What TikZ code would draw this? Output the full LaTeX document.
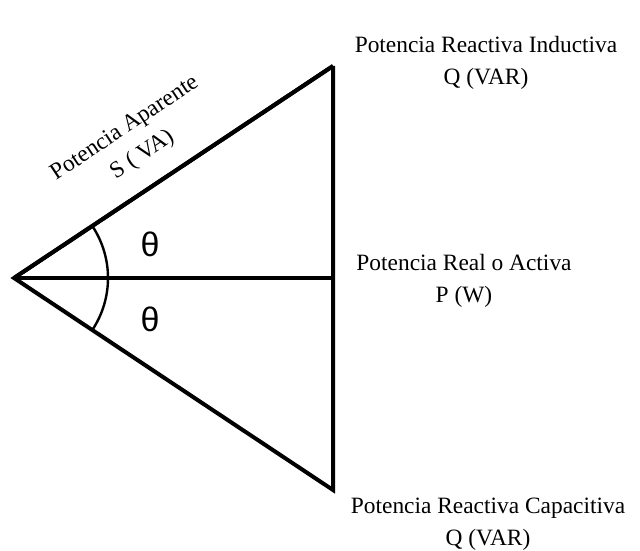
\documentclass[tikz,border=0pt]{standalone}
\usepackage{fontspec}
\setmainfont{Liberation Serif}
\newfontfamily\thetafont{Liberation Sans}
\usetikzlibrary{angles}
\tikzset{
  lado/.style={line width=2pt},
  etiqueta/.style={align=center, font=\fontsize{11.7}{16}\selectfont},
  angulo/.style={font=\thetafont\fontsize{17}{17}\selectfont}
}
\begin{document}
\begin{tikzpicture}[x=0.5pt, y=0.5pt]
\useasboundingbox (0,0) rectangle (640,550);
\coordinate (o) at (14,272);
\coordinate (a) at (333,484);
\coordinate (p) at (333,272);
\coordinate (b) at (333,60);
\draw[lado, line join=miter] (a) -- (o) -- (b) -- (a);
\draw[lado] (o) -- (p);
\draw[lado] (o) -- (a) node[etiqueta, pos=0.457, sloped, above=6pt] {Potencia Aparente\\S ( VA)};
\pic[draw, line width=1.2pt, angle radius=47pt] {angle = b--o--a};
\node[angulo] (t1) at (150,306) {θ};
\node[angulo] (t2) at (150,231) {θ};
\node[etiqueta] (q1) at (486,487) {Potencia Reactiva Inductiva\\Q (VAR)};
\node[etiqueta] (pw) at (464,269) {Potencia Real o Activa\\P (W)};
\node[etiqueta] (q2) at (488,26) {Potencia Reactiva Capacitiva\\Q (VAR)};
\end{tikzpicture}
\end{document}
